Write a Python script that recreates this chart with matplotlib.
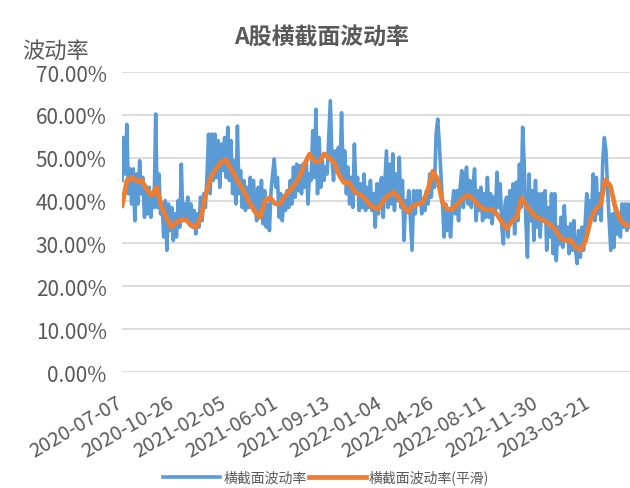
import numpy as np
import matplotlib
matplotlib.use("Agg")
import matplotlib.pyplot as plt
import matplotlib.transforms as mtransforms
from matplotlib.ticker import FuncFormatter

plt.rcParams['font.family'] = ['Noto Sans CJK SC', 'DejaVu Sans']

# trading-day index of the first and last point, and tick labels every 75 days
n_days = 733
tick_days = [0, 75, 150, 225, 300, 375, 450, 525, 600, 675]
tick_labels = ["2020-07-07", "2020-10-26", "2021-02-05", "2021-06-01", "2021-09-13",
               "2022-01-04", "2022-04-26", "2022-08-11", "2022-11-30", "2023-03-21"]

# daily cross-sectional volatility (%)
vol = [
    44.7, 54.7, 46.2, 57.8, 41.6, 47.4, 39.2, 47.4, 35.3, 46.2, 39.2, 49.3, 41.6, 45.4, 36.1, 43.1,
    36.9, 43.1, 36.1, 41.6, 38.4, 60.2, 38.4, 46.2, 36.9, 39.2, 31.5, 40.0, 28.4, 39.2, 33.0, 38.4,
    30.7, 36.9, 31.5, 40.0, 33.8, 48.5, 35.3, 39.2, 36.1, 40.8, 35.3, 39.2, 33.8, 37.7, 32.2, 36.9,
    33.8, 40.8, 35.3, 41.6, 38.4, 45.4, 55.5, 41.6, 55.5, 44.7, 55.5, 45.4, 54.0, 43.1, 53.2, 47.0,
    54.7, 45.4, 57.1, 44.7, 54.0, 41.6, 49.3, 39.2, 57.4, 41.6, 47.0, 38.4, 44.7, 37.7, 43.1, 38.4,
    45.4, 38.4, 44.7, 39.2,
    35.3, 43.1, 36.1, 44.7, 34.6, 42.3, 33.8, 39.2, 33.0, 42.3, 46.2, 49.7, 43.1, 45.4, 36.1, 41.6,
    35.3, 40.8, 37.7, 42.3, 38.4, 44.7, 39.2, 47.8, 40.8, 48.5, 42.3, 48.1, 41.6, 48.5, 43.1, 49.3,
    39.2, 46.2, 44.7, 56.3, 45.4, 61.3, 41.6, 54.7, 43.1, 49.3, 44.7, 47.8, 46.2, 54.7, 63.3, 49.3,
    44.7, 51.6, 47.0, 52.4, 46.2, 60.5, 45.4, 51.6, 41.6, 47.8, 39.2, 45.4, 38.4, 53.2, 41.6, 45.4,
    37.7, 43.9, 38.4, 46.2, 37.7, 43.1, 38.4, 44.7, 37.7, 41.6, 33.8, 43.9, 36.9, 43.9,
    45.4, 36.1, 43.9, 51.6, 38.4, 48.5, 39.2, 50.9, 37.7, 46.2, 40.0, 50.1, 38.4, 44.7, 30.7, 40.0,
    38.4, 42.3, 35.3, 28.4, 42.3, 36.9, 42.3, 39.2, 42.3, 36.9, 40.0, 37.7, 42.3, 39.2, 46.2, 40.8,
    47.0, 43.1, 55.5, 59.0, 53.2, 46.2, 39.2, 31.5, 39.2, 33.0, 37.7, 31.5, 38.4, 42.3, 36.9, 42.3,
    35.3, 43.1, 47.0, 38.4, 44.7, 47.8, 39.2, 44.7, 38.4, 43.1, 47.4, 35.3, 42.3, 37.7, 43.1, 35.3,
    41.6, 36.1, 45.4, 36.1, 41.6, 34.6, 40.8, 36.9, 46.6, 38.4, 43.9, 33.8, 29.9, 39.2,
    40.8, 31.5, 42.3, 35.3, 43.9, 32.2, 44.3, 35.3, 48.5, 38.4, 57.1, 48.5, 35.3, 26.8, 46.2, 35.3,
    42.3, 30.7, 44.7, 33.8, 41.6, 31.5, 41.6, 35.3, 42.3, 28.4, 38.4, 31.5, 41.6, 27.6, 41.6, 26.0,
    33.8, 29.9, 36.1, 29.1, 38.8, 30.7, 33.8, 27.6, 34.6, 28.4, 35.3, 28.4, 25.3, 33.0, 26.8, 33.8,
    28.4, 34.6, 41.6, 33.8, 40.0, 36.1, 46.2, 35.3, 45.4, 36.9, 41.6, 35.3, 49.3, 54.7, 51.6, 43.1,
    35.3, 28.4, 36.9, 29.1, 38.4, 32.2, 36.9, 31.5, 39.2, 33.8, 39.2, 33.0, 39.2, 33.8,
]

# smoothed series (%)
vol_smooth = [
    38.8, 44.7, 45.4, 44.5, 44.7, 42.6, 41.2, 43.1, 38.6, 36.0, 33.8, 35.0, 35.5, 35.5, 34.2, 33.8,
    36.1, 41.6, 45.4, 47.4, 48.8, 49.6, 47.6, 45.5, 43.6, 41.5,
    39.2, 37.3, 36.1, 40.0, 40.7, 39.3, 39.2, 41.0, 42.4, 43.7, 45.5, 48.5, 50.8, 49.2, 49.0, 50.9,
    49.9, 49.0, 46.0, 44.2, 44.2, 42.3, 41.5, 40.8, 39.3, 38.3,
    38.1, 40.0, 41.2, 41.9, 40.8, 38.8, 37.3, 38.8, 39.2, 39.6, 42.3, 46.8, 45.0, 39.5, 38.0, 38.0,
    39.1, 40.4, 41.3, 40.6, 39.2, 38.3, 37.8, 38.0, 36.8, 35.0,
    33.4, 35.2, 36.1, 40.6, 38.8, 37.3, 36.1, 35.7, 35.0, 34.2, 33.0, 31.1, 30.7, 30.7, 29.1, 28.4,
    30.7, 35.5, 37.9, 39.0, 44.8, 43.5, 38.5, 35.6, 34.4, 34.2,
]

blue = "#5B9BD5"
orange = "#ED7D31"
grey = "#595959"

fig = plt.figure(figsize=(6.3, 4.89), dpi=100)
ax = fig.add_axes([0.1937, 0.2372, 0.8063, 0.6135])

x_vol = np.linspace(0, n_days, len(vol))
x_smooth = np.linspace(0, n_days, len(vol_smooth))
ax.plot(x_vol, vol, color=blue, lw=2.6, label="横截面波动率", solid_joinstyle="round")
ax.plot(x_smooth, vol_smooth, color=orange, lw=3.4, label="横截面波动率(平滑)",
        solid_joinstyle="round")

ax.set_xlim(0, n_days)
ax.set_ylim(0, 70)
ax.set_yticks(range(0, 71, 10))
ax.yaxis.set_major_formatter(FuncFormatter(lambda v, p: f"{v:.2f}%"))
ax.grid(axis="y", color="#D9D9D9", lw=1.3)
ax.set_axisbelow(True)
for s in ax.spines.values():
    s.set_visible(False)
ax.tick_params(axis="y", length=0, pad=11, labelsize=15, labelcolor=grey)
ax.tick_params(axis="x", length=0, pad=14, labelsize=14.5, labelcolor=grey)
ax.set_xticks(tick_days)
ax.set_xticklabels(tick_labels, rotation=30, ha="right", va="top", rotation_mode="anchor")
shift = mtransforms.ScaledTranslation(-0.07, 0, fig.dpi_scale_trans)
for lab in ax.get_xticklabels():
    lab.set_transform(lab.get_transform() + shift)

fig.text(0.035, 0.896, "波动率", fontsize=16, color=grey, ha="left", va="center")
fig.text(0.51, 0.922, "A股横截面波动率", fontsize=16.5, fontweight="bold", color=grey,
         ha="center", va="center")

fig.legend(loc="center", bbox_to_anchor=(0.518, 0.022), ncol=2, frameon=False, fontsize=10,
           handlelength=4.1, handletextpad=0.2, columnspacing=0.2, labelcolor=grey)

fig.savefig("out.png", dpi=100)
